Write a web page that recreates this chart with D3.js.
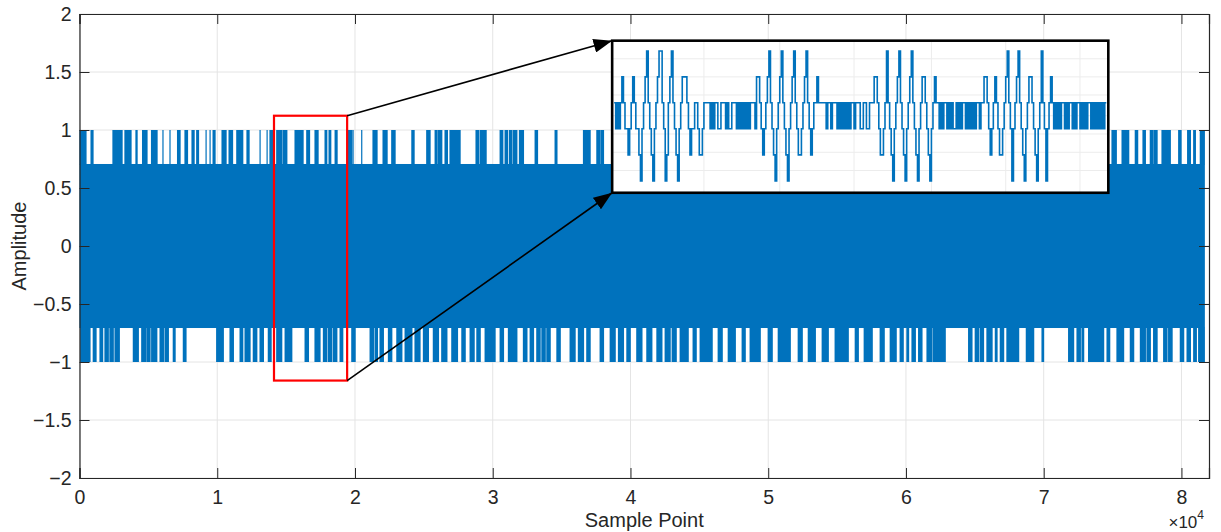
<!DOCTYPE html>
<html>
<head>
<meta charset="utf-8">
<script src="https://cdn.jsdelivr.net/npm/d3@7"></script>
<style>
  body { margin: 0; background: #fff; }
  text { font-family: "Liberation Sans", Arial, sans-serif; fill: #262626; }
</style>
</head>
<body>
<svg id="chart" width="1221" height="532"></svg>
<script>
// x values are in units of 10^4 samples (axis shows x10^4)
const xTicks = [0, 1, 2, 3, 4, 5, 6, 7, 8];
const yTicks = [-2, -1.5, -1, -0.5, 0, 0.5, 1, 1.5, 2];
const signalEnd = 8.17;
const bandLevel = 0.707;   // dense part of the signal
const peakLevel = 1;       // occasional peaks

// [start, end] of the runs that reach +1
const topSpikes = [
  [0.004, 0.047], [0.084, 0.098], [0.243, 0.309], [0.330, 0.374], [0.410, 0.418],
  [0.458, 0.490], [0.523, 0.563], [0.606, 0.606], [0.657, 0.657], [0.712, 0.730],
  [0.766, 0.784], [0.817, 0.832], [0.851, 0.864], [0.919, 0.919], [0.948, 0.948],
  [0.970, 0.984], [1.035, 1.064], [1.086, 1.111], [1.142, 1.185], [1.216, 1.231],
  [1.311, 1.311], [1.362, 1.362], [1.383, 1.405], [1.432, 1.468], [1.478, 1.505],
  [1.565, 1.623], [1.650, 1.670], [1.710, 1.732], [1.783, 1.795], [1.812, 1.824],
  [1.856, 1.870], [1.950, 1.977], [1.986, 1.986], [2.049, 2.049], [2.131, 2.160],
  [2.204, 2.233], [2.267, 2.291], [2.413, 2.429], [2.521, 2.545], [2.582, 2.594],
  [2.603, 2.630], [2.654, 2.671], [2.690, 2.763], [2.879, 2.896], [2.908, 2.952],
  [3.054, 3.073], [3.090, 3.107], [3.121, 3.139], [3.150, 3.175], [3.194, 3.223],
  [3.308, 3.325], [3.453, 3.466], [3.659, 3.707], [3.756, 3.775], [3.785, 3.804],
  [4.100, 4.130], [4.400, 4.420], [5.000, 5.040], [5.600, 5.620], [6.300, 6.340],
  [7.496, 7.527], [7.569, 7.617], [7.665, 7.682], [7.721, 7.738], [7.774, 7.794],
  [7.803, 7.823], [7.859, 7.919], [7.980, 7.997], [8.045, 8.065], [8.089, 8.101],
  [8.137, 8.166]
];

// [start, end] of the runs that reach -1
const bottomSpikes = [
  [0.009, 0.076], [0.100, 0.120], [0.149, 0.168], [0.185, 0.209], [0.221, 0.245],
  [0.258, 0.289], [0.391, 0.427], [0.452, 0.483], [0.492, 0.512], [0.524, 0.561],
  [0.585, 0.609], [0.621, 0.645], [0.681, 0.694], [0.754, 0.773], [0.996, 1.044],
  [1.093, 1.117], [1.166, 1.185], [1.202, 1.238], [1.262, 1.287], [1.311, 1.335],
  [1.371, 1.391], [1.432, 1.468], [1.493, 1.541], [1.638, 1.662], [1.710, 1.746],
  [1.771, 1.795], [1.807, 1.831], [1.843, 1.868], [1.892, 1.911], [1.977, 2.001],
  [2.110, 2.134], [2.146, 2.163], [2.182, 2.206], [2.243, 2.267], [2.304, 2.340],
  [2.364, 2.413], [2.436, 2.472], [2.497, 2.533], [2.569, 2.606], [2.630, 2.667],
  [2.703, 2.744], [2.776, 2.800], [2.836, 2.865], [2.885, 2.909], [2.945, 3.017],
  [3.054, 3.078], [3.114, 3.175], [3.223, 3.248], [3.272, 3.296], [3.320, 3.344],
  [3.357, 3.381], [3.393, 3.417], [3.466, 3.490], [3.562, 3.598], [3.622, 3.659],
  [3.683, 3.707], [3.780, 3.804], [3.853, 3.889], [3.913, 3.949], [3.974, 3.998],
  [4.046, 4.083], [4.119, 4.155], [4.192, 4.228], [4.252, 4.288], [4.303, 4.332],
  [4.361, 4.419], [4.455, 4.477], [4.506, 4.593], [4.637, 4.666], [4.710, 4.761],
  [4.811, 4.833], [4.869, 4.942], [5.000, 5.029], [5.073, 5.160], [5.218, 5.247],
  [5.291, 5.342], [5.392, 5.436], [5.486, 5.581], [5.632, 5.654], [5.697, 5.755],
  [5.813, 5.842], [5.886, 5.929], [5.958, 5.980], [6.007, 6.019], [6.044, 6.068],
  [6.092, 6.116], [6.153, 6.189], [6.200, 6.285], [6.455, 6.479], [6.503, 6.527],
  [6.539, 6.563], [6.588, 6.625], [6.649, 6.661], [6.685, 6.709], [6.733, 6.818],
  [6.874, 6.927], [6.988, 6.999], [7.181, 7.217], [7.242, 7.266], [7.278, 7.290],
  [7.326, 7.435], [7.460, 7.479], [7.532, 7.580], [7.629, 7.653], [7.702, 7.738],
  [7.750, 7.774], [7.798, 7.823], [7.871, 7.895], [7.907, 7.932], [7.992, 8.016],
  [8.041, 8.065], [8.089, 8.108], [8.125, 8.166]
];

// zoomed region (red) and where the inset sits: [x0, x1, yLow, yHigh]
const zoomBox = [1.412, 1.943, -1.16, 1.123];
const insetBox = [3.867, 7.469, 0.459, 1.77];

// inset: stepped signal as [level, run length in samples]
const insetSteps = [
  // burst 1
  [1,1],[-1,1],[1,1],[-1,1],[1,1],[2,1],[1,1],[-1,2],[-2,1],[-1,1],[1,1],[2,1],[1,1],
  [-1,2],[-2,1],[-3,1],[-1,1],[1,1],[2,1],[3,1],[1,1],[-1,1],[-2,1],[-3,1],[-1,1],[1,1],
  [2,1],[3,2],[1,1],[-1,1],[-3,1],[-2,1],[1,1],[2,1],[3,1],[1,1],[-1,1],[-2,1],[-3,1],
  [-1,1],[1,1],[2,3],[1,1],[-1,1],[-2,1],[-1,2],[1,2],[-1,1],[-2,2],[-1,1],
  // quiet
  [1,4],[-1,1],[1,1],[-1,1],[1,2],[-1,2],[1,3],[-1,1],[1,1],[-1,2],[1,3],[-1,1],[1,1],
  [-1,1],[1,1],[-1,1],[1,1],[-1,1],[1,1],[-1,1],[1,3],[-1,1],
  // burst 2
  [2,2],[1,1],[-1,1],[-2,1],[-1,1],[1,1],[2,1],[3,1],[1,1],[-1,1],[-2,1],[-3,1],[-1,1],
  [1,1],[2,1],[3,1],[1,1],[-1,1],[-2,1],[-3,1],[-1,1],[1,1],[2,1],[3,1],[1,1],[-1,1],
  [-2,2],[-1,1],[1,1],[2,1],[3,1],[1,1],[-1,1],[-2,1],[-1,1],[1,2],[2,1],[1,1],
  // quiet
  [1,4],[-1,1],[1,2],[-1,1],[1,3],[-1,1],[1,1],[-1,1],[1,1],[-1,1],[1,1],[-1,1],[1,1],
  [-1,1],[1,2],[-1,1],[1,3],[-1,2],[1,2],[-1,2],[1,3],
  // burst 3
  [2,2],[1,1],[-1,1],[-2,2],[-1,1],[1,1],[3,1],[1,1],[-1,1],[-2,1],[-3,1],[-1,1],[1,1],
  [2,1],[3,1],[1,1],[-1,1],[-2,1],[-3,1],[-1,1],[1,1],[2,1],[3,1],[1,1],[-1,1],[-2,1],
  [-3,1],[-1,1],[1,1],[2,2],[1,1],[-1,1],[-2,1],[-3,1],[-1,1],[1,1],[2,1],[1,1],
  // quiet
  [1,1],[-1,1],[1,1],[-1,1],[1,2],[-1,1],[1,1],[-1,1],[1,1],[-1,2],[1,1],[-1,1],[1,1],
  [-1,1],[1,2],[-1,1],[1,1],[-1,1],[1,1],[-1,1],[1,1],[-1,1],[1,2],[-1,1],[1,1],
  // burst 4
  [1,1],[2,2],[1,1],[-1,1],[-2,1],[-1,1],[1,1],[2,1],[1,1],[-1,1],[-2,2],[-1,1],[1,1],
  [2,1],[3,1],[1,1],[-1,1],[-3,1],[-1,1],[1,1],[2,1],[3,1],[1,1],[-1,1],[-2,1],[-3,1],
  [-1,1],[1,1],[2,2],[1,1],[-1,1],[-2,1],[-3,1],[-1,1],[1,1],[3,1],[1,1],[-1,1],[-3,1],
  [-1,1],[1,1],[2,1],[1,1],
  // quiet
  [-1,1],[1,1],[-1,1],[1,1],[-1,1],[1,2],[-1,1],[1,1],[-1,1],[1,2],[-1,1],[1,1],[-1,1],
  [1,2],[-1,1],[1,1],[-1,1],[1,1],[-1,1],[1,2],[-1,1],[1,1],[-1,1],[1,1],[-1,1],[1,1],
  [-1,1],[1,1],[-1,1],[1,1]
];
const insetGridX = [58, 107, 155, 205, 253, 301];
const insetGridY = [2.7, 2.0, 1.3, 0, -1.2, -1.9, -2.6];

const blue = "#0072BD";
const svg = d3.select("#chart");
const margin = {left: 79.5, right: 12, top: 14, bottom: 54};
const W = 1221, H = 532;

const x = d3.scaleLinear().domain([0, 8.2]).range([margin.left, W - margin.right]);
const y = d3.scaleLinear().domain([-2, 2]).range([H - margin.bottom, margin.top]);

// grid
const grid = svg.append("g").attr("stroke", "#e4e4e4").attr("stroke-width", 1);
grid.selectAll(".gx").data(xTicks).join("line")
  .attr("x1", d => x(d)).attr("x2", d => x(d))
  .attr("y1", y(-2)).attr("y2", y(2));
grid.selectAll(".gy").data(yTicks).join("line")
  .attr("x1", x(0)).attr("x2", x(8.2))
  .attr("y1", d => y(d)).attr("y2", d => y(d));

// dense body of the signal
svg.append("rect")
  .attr("x", x(0)).attr("width", x(signalEnd) - x(0))
  .attr("y", y(bandLevel)).attr("height", y(-bandLevel) - y(bandLevel))
  .attr("fill", blue);

// peaks
svg.append("g").selectAll("rect").data(topSpikes).join("rect")
  .attr("x", d => x(d[0]) - 0.6)
  .attr("width", d => x(d[1]) - x(d[0]) + 1.2)
  .attr("y", y(peakLevel))
  .attr("height", y(bandLevel) - y(peakLevel) + 0.5)
  .attr("fill", blue);
svg.append("g").selectAll("rect").data(bottomSpikes).join("rect")
  .attr("x", d => x(d[0]) - 0.6)
  .attr("width", d => x(d[1]) - x(d[0]) + 1.2)
  .attr("y", y(-bandLevel) - 0.5)
  .attr("height", y(-peakLevel) - y(-bandLevel) + 0.5)
  .attr("fill", blue);

// axes box, ticks pointing inward like MATLAB
const axisColor = "#262626";
const fmtY = d3.format("");
const gx = svg.append("g").attr("transform", `translate(0,${y(-2)})`)
  .call(d3.axisBottom(x).tickValues(xTicks).tickSize(-10).tickPadding(12).tickFormat(d3.format("d")));
const gy = svg.append("g").attr("transform", `translate(${x(0)},0)`)
  .call(d3.axisLeft(y).tickValues(yTicks).tickSize(-10).tickPadding(8).tickFormat(fmtY));
const gt = svg.append("g").attr("transform", `translate(0,${y(2)})`)
  .call(d3.axisTop(x).tickValues(xTicks).tickSize(-10).tickFormat(""));
const gr = svg.append("g").attr("transform", `translate(${x(8.2)},0)`)
  .call(d3.axisRight(y).tickValues(yTicks).tickSize(-10).tickFormat(""));
[gx, gy, gt, gr].forEach(g => {
  g.selectAll("path").attr("stroke", axisColor).attr("stroke-width", 1.2);
  g.selectAll("line").attr("stroke", axisColor).attr("stroke-width", 1);
  g.selectAll("text").attr("font-size", 19.5).attr("font-family", "Liberation Sans, Arial, sans-serif")
    .attr("fill", axisColor);
});

// axis labels
svg.append("text")
  .attr("x", (x(0) + x(8.2)) / 2).attr("y", 527)
  .attr("text-anchor", "middle").attr("font-size", 20)
  .text("Sample Point");
svg.append("text")
  .attr("transform", `translate(26,${y(0)}) rotate(-90)`)
  .attr("text-anchor", "middle").attr("font-size", 20)
  .text("Amplitude");
const expo = svg.append("text")
  .attr("x", x(8.2) - 5).attr("y", 528)
  .attr("text-anchor", "end").attr("font-size", 17);
expo.append("tspan").text("\u00d710");
expo.append("tspan").attr("dy", -9).attr("font-size", 12).text("4");

// red box over the zoomed region
svg.append("rect")
  .attr("x", x(zoomBox[0])).attr("y", y(zoomBox[3]))
  .attr("width", x(zoomBox[1]) - x(zoomBox[0]))
  .attr("height", y(zoomBox[2]) - y(zoomBox[3]))
  .attr("fill", "none").attr("stroke", "#f00").attr("stroke-width", 2.2);

// arrows to the inset
svg.append("defs").append("marker")
  .attr("id", "head").attr("viewBox", "0 0 16 12")
  .attr("refX", 16).attr("refY", 6)
  .attr("markerWidth", 19).attr("markerHeight", 14)
  .attr("markerUnits", "userSpaceOnUse").attr("orient", "auto")
  .append("path").attr("d", "M0,0L16,6L0,12Z").attr("fill", "#000");
const arrows = [
  [zoomBox[1], zoomBox[3], insetBox[0], insetBox[3]],
  [zoomBox[1], zoomBox[2], insetBox[0], insetBox[2]]
];
svg.selectAll(".arrow").data(arrows).join("line")
  .attr("x1", d => x(d[0])).attr("y1", d => y(d[1]))
  .attr("x2", d => x(d[2])).attr("y2", d => y(d[3]))
  .attr("stroke", "#000").attr("stroke-width", 1.6)
  .attr("marker-end", "url(#head)");

// inset
const ix0 = x(insetBox[0]), ix1 = x(insetBox[1]);
const iyT = y(insetBox[3]), iyB = y(insetBox[2]);
const ih = iyB - iyT;
const inset = svg.append("g");
inset.append("rect").attr("x", ix0).attr("y", iyT)
  .attr("width", ix1 - ix0).attr("height", ih).attr("fill", "#fff");

let pos = 0;
const insetPts = [];
insetSteps.forEach(([lv, n]) => { insetPts.push([pos, lv]); pos += n; });
insetPts.push([pos, insetSteps[insetSteps.length - 1][0]]);

const sx = d3.scaleLinear().domain([0, pos]).range([ix0 + 2, ix1 - 2]);
const sy = d3.scaleLinear().domain([-3.45, -1, 1, 3.4])
  .range([iyB, iyT + 0.579 * ih, iyT + 0.408 * ih, iyT]);

inset.append("g").attr("stroke", "#ececec").attr("stroke-width", 1)
  .selectAll("line").data(insetGridX).join("line")
  .attr("x1", d => sx(d)).attr("x2", d => sx(d)).attr("y1", iyT).attr("y2", iyB);
inset.append("g").attr("stroke", "#ececec").attr("stroke-width", 1)
  .selectAll("line").data(insetGridY).join("line")
  .attr("x1", ix0).attr("x2", ix1).attr("y1", d => sy(d)).attr("y2", d => sy(d));

inset.append("path")
  .datum(insetPts)
  .attr("d", d3.line().x(d => sx(d[0])).y(d => sy(d[1])).curve(d3.curveStepAfter))
  .attr("fill", "none").attr("stroke", blue).attr("stroke-width", 1.6);

inset.append("rect").attr("x", ix0).attr("y", iyT)
  .attr("width", ix1 - ix0).attr("height", ih)
  .attr("fill", "none").attr("stroke", "#000").attr("stroke-width", 2.6);
</script>
</body>
</html>
